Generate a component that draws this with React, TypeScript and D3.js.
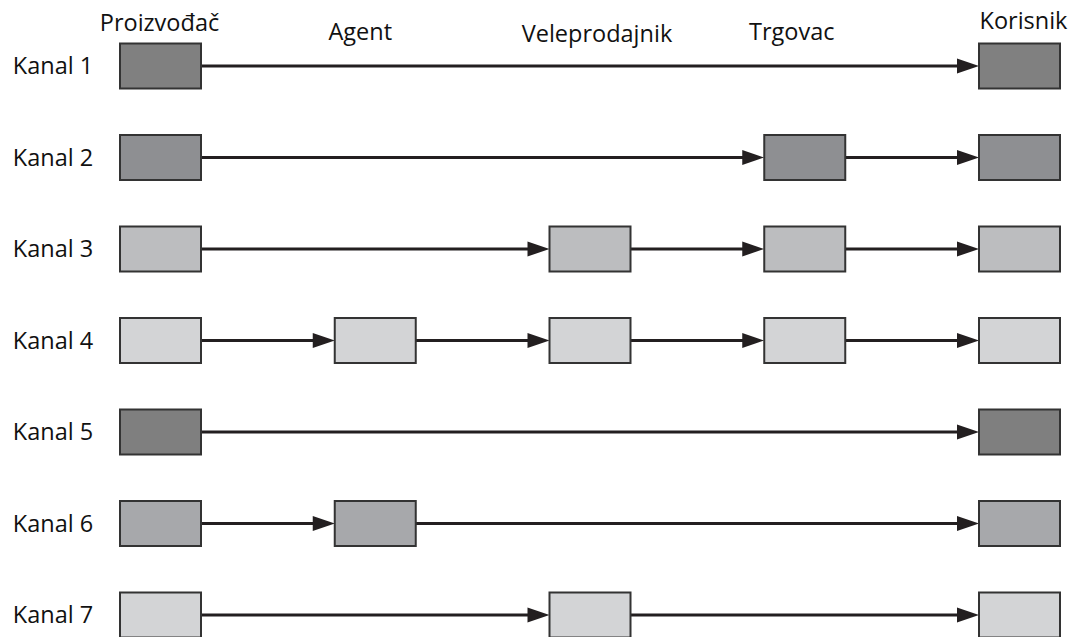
import { scalePoint } from "d3";

const columns = ["Proizvođač", "Agent", "Veleprodajnik", "Trgovac", "Korisnik"];
const channels = ["Kanal 1", "Kanal 2", "Kanal 3", "Kanal 4", "Kanal 5", "Kanal 6", "Kanal 7"];
// which columns each channel passes through
const channelStops: number[][] = [
  [0, 4],
  [0, 3, 4],
  [0, 2, 3, 4],
  [0, 1, 2, 3, 4],
  [0, 4],
  [0, 1, 4],
  [0, 2, 4],
];
const channelFills = ["#808080", "#8e8f92", "#bcbdbf", "#d3d4d6", "#7f7f7f", "#a7a8ab", "#d3d4d6"];

const WIDTH = 1075;
const HEIGHT = 637;
const BOX_W = 81;
const BOX_H = 45;
const HEAD_LEN = 22;
const HEAD_HALF = 7.5;
// header labels are not quite centred over their boxes in the original
const HEADER_Y = [31, 40, 42, 40, 29];
const HEADER_DX = [-1, -15, 7, -13, 4];
const FONT = "'Open Sans', 'Noto Sans', sans-serif";

export default function App() {
  const x = scalePoint<string>().domain(columns).range([120, 979]);
  const y = scalePoint<string>().domain(channels).range([66, 615]);

  return (
    <svg
      width={WIDTH}
      height={HEIGHT}
      viewBox={`0 0 ${WIDTH} ${HEIGHT}`}
      style={{ position: "absolute", left: 0, top: 0, background: "white", display: "block" }}
    >
      {columns.map((c, i) => (
        <text
          key={c}
          x={(x(c) ?? 0) + BOX_W / 2 + HEADER_DX[i]}
          y={HEADER_Y[i]}
          textAnchor="middle"
          fontFamily={FONT}
          fontSize={23.5}
          fill="#111"
        >
          {c}
        </text>
      ))}

      {channels.map((ch, r) => {
        const cy = y(ch) ?? 0;
        const stops = channelStops[r];
        return (
          <g key={ch}>
            <text x={53} y={cy} dy="0.36em" textAnchor="middle" fontFamily={FONT} fontSize={23.5} fill="#111">
              {ch}
            </text>
            {stops.slice(1).map((s, k) => {
              const from = (x(columns[stops[k]]) ?? 0) + BOX_W;
              const to = x(columns[s]) ?? 0;
              return (
                <g key={s}>
                  <line x1={from} x2={to - HEAD_LEN + 2} y1={cy} y2={cy} stroke="#231f20" strokeWidth={3.2} />
                  <path
                    d={`M${to},${cy} L${to - HEAD_LEN},${cy - HEAD_HALF} L${to - HEAD_LEN},${cy + HEAD_HALF} Z`}
                    fill="#231f20"
                  />
                </g>
              );
            })}
            {stops.map((s) => (
              <rect
                key={s}
                x={x(columns[s]) ?? 0}
                y={cy - BOX_H / 2}
                width={BOX_W}
                height={BOX_H}
                fill={channelFills[r]}
                stroke="#333"
                strokeWidth={2}
              />
            ))}
          </g>
        );
      })}
    </svg>
  );
}
